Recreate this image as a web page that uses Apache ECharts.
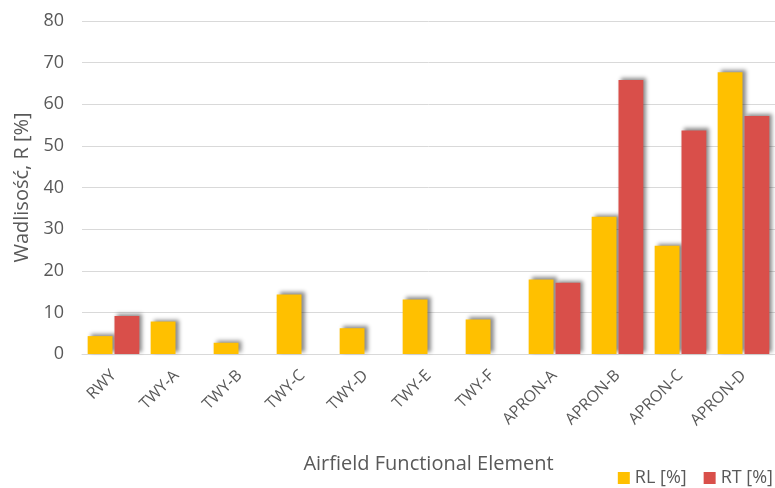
<!DOCTYPE html>
<html><head><meta charset="utf-8">
<script src="https://cdn.jsdelivr.net/npm/echarts@6/dist/echarts.min.js"></script>
<style>html,body{margin:0;padding:0;background:#fff}#c{width:775px;height:488px}</style>
</head><body><div id="c"></div>
<script>
const categories = ['RWY','TWY-A','TWY-B','TWY-C','TWY-D','TWY-E','TWY-F','APRON-A','APRON-B','APRON-C','APRON-D'];
const rlValues = [4.3, 7.8, 2.7, 14.3, 6.2, 13.1, 8.3, 17.9, 33.0, 26.0, 67.7];
const rtValues = [9.1, null, null, null, null, null, null, 17.1, 65.8, 53.7, 57.2];
const yTicks = [0, 10, 20, 30, 40, 50, 60, 70, 80];

const font = '"Open Sans", sans-serif';
const shadow = {shadowBlur: 4, shadowColor: 'rgba(0,0,0,0.45)', shadowOffsetX: 3, shadowOffsetY: -2};
const chart = echarts.init(document.getElementById('c'));
chart.setOption({
  animation: false,
  grid: {left: 82, right: 0, top: 21, bottom: 134, containLabel: false, outerBoundsMode: 'none'},
  legend: {
    right: 0, top: 465, padding: 2, itemWidth: 12, itemHeight: 12, itemGap: 17,
    icon: 'rect',
    textStyle: {fontFamily: font, fontSize: 18, lineHeight: 22, color: '#595959'},
    data: ['RL [%]', 'RT [%]']
  },
  xAxis: {
    type: 'category', data: categories,
    name: 'Airfield Functional Element', nameLocation: 'middle', nameGap: 100,
    nameTextStyle: {fontFamily: font, fontSize: 20, color: '#595959'},
    axisLine: {lineStyle: {color: '#d9d9d9'}},
    axisTick: {show: false},
    axisLabel: {rotate: 45, interval: 0, fontFamily: font, fontSize: 16, color: '#595959', margin: 19}
  },
  yAxis: {
    type: 'value', min: yTicks[0], max: yTicks[yTicks.length - 1], interval: 10,
    name: 'Wadlisość, R [%]', nameLocation: 'middle', nameGap: 40, nameRotate: 90,
    nameTextStyle: {fontFamily: font, fontSize: 20, color: '#595959'},
    axisLine: {show: false}, axisTick: {show: false},
    axisLabel: {fontFamily: font, fontSize: 18, color: '#595959', margin: 18},
    splitLine: {lineStyle: {color: '#d9d9d9', width: 1}}
  },
  series: [
    {name: 'RL [%]', type: 'bar', data: rlValues, barGap: '8%', barCategoryGap: '18%',
     itemStyle: Object.assign({color: '#FFC000'}, shadow)},
    {name: 'RT [%]', type: 'bar', data: rtValues,
     itemStyle: Object.assign({color: '#D94F4A'}, shadow)}
  ]
});
</script></body></html>
